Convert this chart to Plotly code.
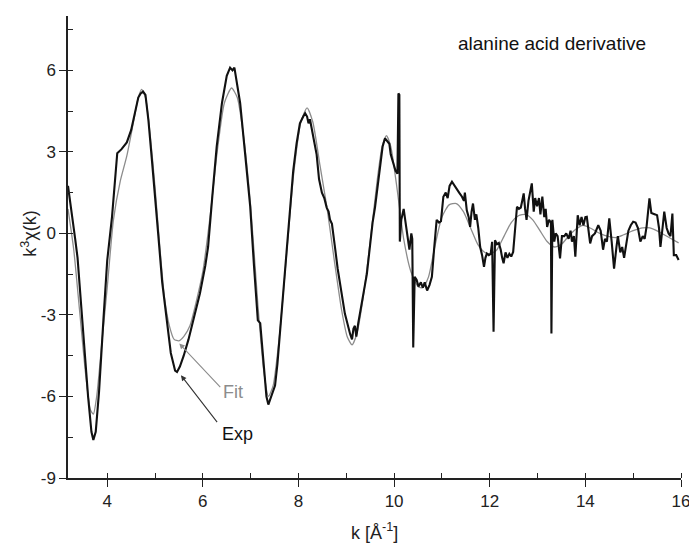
import plotly.graph_objects as go

k_exp = [3.18, 3.25, 3.33, 3.38, 3.45, 3.52, 3.60, 3.67, 3.71, 3.76, 3.83, 3.92, 4.00, 4.10, 4.17, 4.21,
         4.30, 4.41, 4.50, 4.58, 4.65, 4.70, 4.75, 4.80, 4.86, 4.93, 5.00, 5.07, 5.15, 5.24, 5.33, 5.42,
         5.46, 5.52, 5.60, 5.70, 5.80, 5.94, 6.05, 6.11, 6.20, 6.29, 6.40, 6.50, 6.57, 6.62, 6.66, 6.72,
         6.78, 6.88, 6.99, 7.07, 7.13, 7.15, 7.20, 7.27, 7.33, 7.37, 7.43, 7.48, 7.51, 7.56, 7.61, 7.68,
         7.75, 7.82, 7.89, 7.96, 8.03, 8.10, 8.14, 8.18, 8.21, 8.24, 8.28, 8.33, 8.38, 8.43, 8.49, 8.54,
         8.59, 8.63, 8.66, 8.70, 8.74, 8.77, 8.82, 8.87, 8.92, 8.97, 9.03, 9.08, 9.12, 9.15, 9.18, 9.21,
         9.25, 9.29, 9.35, 9.43, 9.50, 9.55, 9.60, 9.66, 9.71, 9.76, 9.81, 9.86, 9.90, 9.93, 9.98, 10.03,
         10.07, 10.09, 10.11, 10.12, 10.15, 10.20, 10.24, 10.28, 10.32, 10.36, 10.38, 10.40, 10.43, 10.47,
         10.51, 10.56, 10.60, 10.64, 10.69, 10.74, 10.79, 10.84, 10.89, 10.94, 10.98, 11.03, 11.08, 11.12,
         11.16, 11.21, 11.26, 11.31, 11.36, 11.42, 11.46, 11.48, 11.52, 11.56, 11.59, 11.62, 11.65, 11.69,
         11.72, 11.76, 11.80, 11.84, 11.88, 11.91, 11.94, 11.98, 12.02, 12.05, 12.08, 12.11, 12.15, 12.19,
         12.23, 12.26, 12.29, 12.33, 12.37, 12.41, 12.45, 12.49, 12.53, 12.57, 12.61, 12.65, 12.68, 12.71,
         12.74, 12.77, 12.81, 12.85, 12.88, 12.92, 12.95, 12.99, 13.03, 13.06, 13.10, 13.14, 13.17, 13.20,
         13.24, 13.28, 13.29, 13.31, 13.35, 13.38, 13.42, 13.47, 13.51, 13.56, 13.60, 13.65, 13.69, 13.72,
         13.76, 13.79, 13.84, 13.88, 13.92, 13.96, 14.00, 14.03, 14.10, 14.14, 14.20, 14.27, 14.32, 14.37,
         14.41, 14.45, 14.50, 14.55, 14.60, 14.65, 14.68, 14.73, 14.77, 14.81, 14.85, 14.90, 14.95, 15.00,
         15.05, 15.10, 15.15, 15.20, 15.24, 15.28, 15.34, 15.38, 15.46, 15.50, 15.54, 15.57, 15.62, 15.65,
         15.70, 15.74, 15.78, 15.82, 15.85, 15.90, 15.95]
chi_exp = [1.75, 0.9, -0.2, -0.9, -2.5, -4.3, -6.0, -7.3, -7.6, -7.3, -5.8, -3.2, -1.0, 0.6, 2.2, 2.95,
           3.1, 3.35, 3.8, 4.5, 5.0, 5.15, 5.22, 5.1, 4.2, 2.8, 1.2, -0.1, -1.8, -3.2, -4.4, -5.05,
           -5.1, -4.9, -4.5, -3.9, -3.2, -2.2, -1.2, -0.5, 1.4, 3.2, 4.8, 5.8, 6.1, 6.0, 6.1, 5.5,
           4.8, 3.0, 1.0, -1.2, -3.0, -3.2, -3.3, -4.9, -6.0, -6.3, -6.0, -5.8, -5.6, -4.8, -3.8, -2.3,
           -0.7, 0.8, 2.3, 3.3, 4.05, 4.3, 4.42, 4.3, 4.05, 4.2, 3.8, 3.3, 2.9, 2.0, 1.5, 1.3,
           0.95, 0.8, 0.5, 0.35, -0.3, -0.6, -1.3, -1.95, -2.4, -2.95, -3.4, -3.7, -3.9, -3.5, -3.4, -3.8,
           -3.3, -2.95, -2.3, -1.5, -0.3, 0.4, 0.95, 1.8, 2.6, 3.2, 3.5, 3.4, 3.3, 2.9, 2.6, 2.3,
           2.2, 5.15, 5.1, -0.3, 0.5, 0.9, 0.4, -0.1, -0.6, 0.0, -0.2, -4.2, -1.6, -1.7,
           -1.95, -1.8, -2.0, -1.8, -2.1, -1.9, -1.6, -0.5, 0.5, 0.4, 0.45, 1.35, 1.5, 1.3,
           1.75, 1.9, 1.75, 1.65, 1.5, 1.35, 1.2, 1.5, 0.85, 0.6, 0.24, 0.8, 1.1, 0.5,
           0.7, 0.2, -0.5, -0.8, -1.23, -0.9, -0.74, -0.8, -0.75, -0.31, -3.62, -0.25, -0.4, -0.35,
           -0.6, -0.9, -1.1, -0.7, -0.9, -0.75, -0.85, -0.68, 0.3, 0.98, 0.9, 0.95, 1.2, 1.47,
           0.9, 0.5, 1.2, 1.5, 1.84, 0.8, 1.3, 1.0, 1.3, 0.7, 1.35, 0.6, 0.9, 0.24,
           0.5, 0.4, -3.68, 0.5, -0.3, 0.0, -0.1, -0.92, -0.1, -0.1, 0.0, -0.2, 0.1, -0.3,
           -0.1, -0.86, 0.67, 0.3, 0.6, 0.3, 0.6, 0.61, -0.37, -0.1, 0.0, 0.3, 0.1, -0.6,
           -0.2, -0.3, 0.55, -0.3, -1.3, -0.5, -0.1, -0.7, -0.5, -0.9, -0.5, 0.1, 0.3, 0.43,
           0.4, 0.2, -0.3, -0.1, -0.2, 0.25, 1.29, 0.75, 0.7, 0.67, 0.2, -0.5, 0.3, 0.8,
           0.2, 0.0, -0.1, 0.73, -0.8, -0.8, -0.98]

# Fit curve (smooth)
k_fit = [3.18, 3.30, 3.42, 3.55, 3.65, 3.71, 3.78, 3.90, 4.00, 4.13, 4.27, 4.41, 4.55, 4.65, 4.72, 4.80,
         4.90, 5.00, 5.10, 5.20, 5.30, 5.40, 5.50, 5.60, 5.73, 5.85, 6.00, 6.15, 6.30, 6.45, 6.60, 6.72,
         6.85, 7.00, 7.15, 7.27, 7.37, 7.47, 7.60, 7.75, 7.90, 8.05, 8.18, 8.30, 8.45, 8.60, 8.75, 8.90,
         9.02, 9.12, 9.22, 9.35, 9.50, 9.65, 9.75, 9.84, 9.93, 10.05, 10.20, 10.35, 10.50, 10.60, 10.72,
         10.85, 11.00, 11.15, 11.30, 11.45, 11.60, 11.75, 11.90, 12.02, 12.15, 12.30, 12.45, 12.60, 12.75,
         12.90, 13.05, 13.20, 13.35, 13.50, 13.65, 13.80, 13.95, 14.10, 14.30, 14.50, 14.65, 14.80, 15.00,
         15.20, 15.35, 15.55, 15.75, 15.95]
chi_fit = [0.9, -0.6, -2.8, -5.2, -6.5, -6.65, -6.0, -3.8, -2.0, 0.5, 1.9, 2.85, 4.1, 5.0, 5.3, 5.0,
           3.6, 1.7, -0.5, -2.4, -3.4, -3.9, -3.95, -3.8, -3.4, -2.6, -1.4, 0.6, 3.0, 4.8, 5.35, 5.0,
           3.6, 1.0, -2.6, -5.0, -6.0, -5.6, -3.8, -0.8, 2.2, 4.1, 4.62, 4.1, 2.5, 0.9, -1.0, -2.8,
           -3.8, -4.1, -3.7, -2.4, -0.3, 2.0, 3.2, 3.6, 3.2, 1.8, -0.2, -1.4, -1.95, -2.0, -1.6,
           -0.5, 0.6, 1.05, 1.1, 0.8, 0.2, -0.4, -0.7, -0.75, -0.6, -0.1, 0.4, 0.65, 0.7,
           0.5, 0.1, -0.3, -0.5, -0.4, -0.1, 0.15, 0.3, 0.2, 0.0, -0.12, -0.15, -0.05, 0.1,
           0.2, 0.2, 0.05, -0.15, -0.35]

x_ticks = [4, 6, 8, 10, 12, 14, 16]
y_ticks = [-9, -6, -3, 0, 3, 6]

FONT = "Liberation Sans, Arial, sans-serif"

fig = go.Figure()
fig.add_trace(go.Scatter(x=k_fit, y=chi_fit, mode="lines", name="Fit",
                         line=dict(color="#8c8c8c", width=1.3, shape="spline", smoothing=0.6)))
fig.add_trace(go.Scatter(x=k_exp, y=chi_exp, mode="lines", name="Exp",
                         line=dict(color="#111111", width=2.1)))

axis_common = dict(showline=True, linecolor="#222222", linewidth=1.5, mirror=False,
                   showgrid=False, zeroline=False, ticks="outside", ticklen=7, tickwidth=1.3,
                   tickcolor="#222222", tickfont=dict(family=FONT, size=17, color="#222222"),
                   automargin=False, ticklabeloverflow="allow")

fig.update_xaxes(range=[3.18, 16], tickvals=x_ticks, ticktext=[str(v) for v in x_ticks],
                 minor=dict(ticks="inside", ticklen=5, dtick=1, tick0=0, tickcolor="#222222", tickwidth=1.3),
                 **axis_common)
fig.update_yaxes(range=[-9, 8], tickvals=y_ticks, ticktext=[str(v) for v in y_ticks],
                 minor=dict(ticks="inside", ticklen=5, dtick=1.5, tick0=0, tickcolor="#222222", tickwidth=1.3),
                 **axis_common)

annotations = [
    dict(text="alanine acid derivative", x=0.789, y=0.941, xref="paper", yref="paper",
         xanchor="center", yanchor="middle",
         showarrow=False, font=dict(family=FONT, size=19, color="#111111")),
    dict(text="k<sup>3</sup>χ(k)", x=-0.064, y=0.528, xref="paper", yref="paper", textangle=-90,
         xanchor="center", yanchor="middle",
         showarrow=False, font=dict(family=FONT, size=18, color="#222222")),
    dict(text="k [Å<sup>-1</sup>]", x=0.5, y=-0.115, xref="paper", yref="paper",
         xanchor="center", yanchor="middle",
         showarrow=False, font=dict(family=FONT, size=18, color="#222222")),
    # arrows
    dict(text="", x=5.507, y=-4.05, ax=6.394, ay=-5.71, xref="x", yref="y", axref="x", ayref="y",
         showarrow=True, arrowhead=2, arrowsize=1.0, arrowwidth=1.1, arrowcolor="#8c8c8c"),
    dict(text="", x=5.542, y=-5.22, ax=6.323, ay=-7.0, xref="x", yref="y", axref="x", ayref="y",
         showarrow=True, arrowhead=2, arrowsize=1.0, arrowwidth=1.1, arrowcolor="#333333"),
    dict(text="Fit", x=6.637, y=-5.83, xref="x", yref="y", showarrow=False,
         xanchor="center", yanchor="middle",
         font=dict(family=FONT, size=18, color="#8c8c8c")),
    dict(text="Exp", x=6.721, y=-7.37, xref="x", yref="y", showarrow=False,
         xanchor="center", yanchor="middle",
         font=dict(family=FONT, size=18, color="#111111")),
]

fig.update_layout(width=689, height=548, margin=dict(l=68, r=8, t=16, b=70),
                  paper_bgcolor="white", plot_bgcolor="white", showlegend=False,
                  annotations=annotations, font=dict(family=FONT))

fig.write_html("out.html", config={"displayModeBar": False},
               post_script="document.body.style.margin='0px';document.body.style.overflow='hidden';")
